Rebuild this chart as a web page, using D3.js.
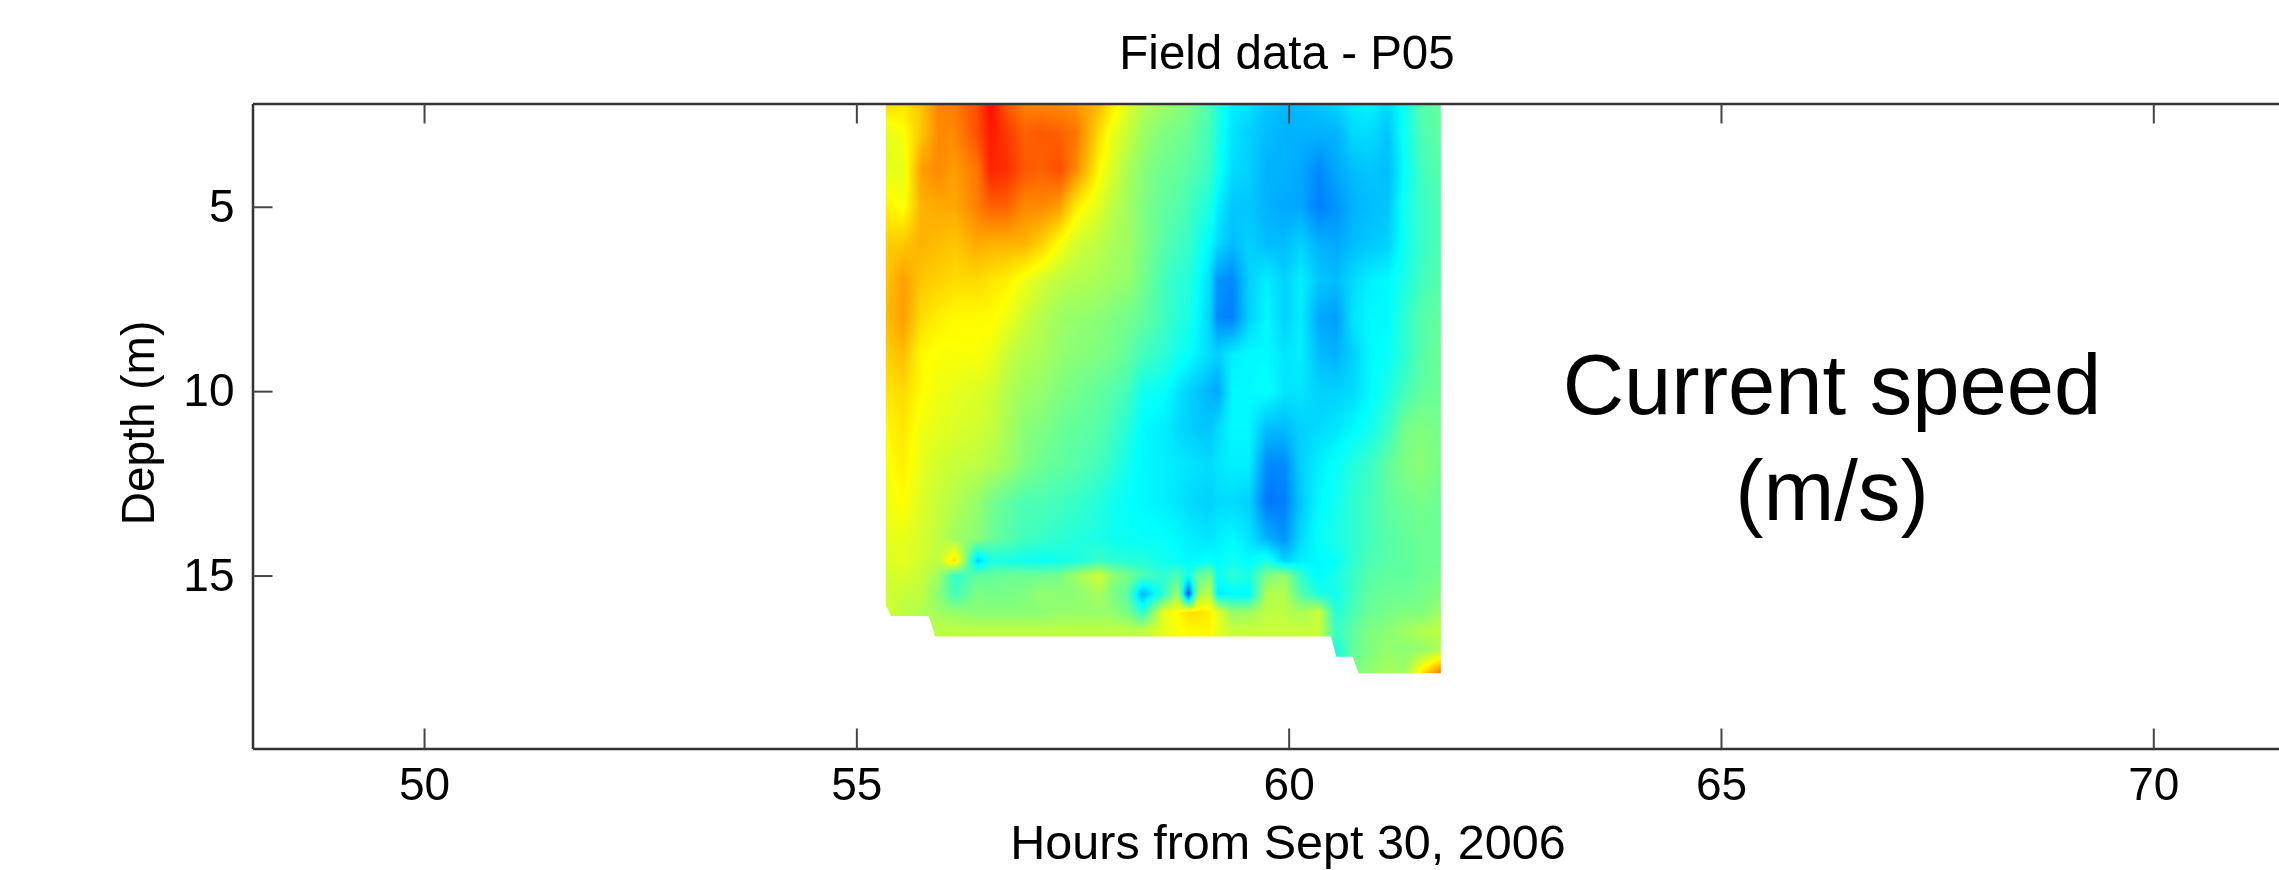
<!DOCTYPE html>
<html>
<head>
<meta charset="utf-8">
<script src="https://cdn.jsdelivr.net/npm/d3@7"></script>
<style>
    html, body { margin: 0; padding: 0; background: #fff; overflow: hidden; }
    #chart { position: relative; width: 2279px; height: 870px; overflow: hidden; }
    #chart canvas, #chart svg { position: absolute; left: 0; top: 0; }
    text { font-family: "Liberation Sans", Arial, sans-serif; fill: #000; }
</style>
</head>
<body>
<div id="chart"></div>
<script>
// Sample times (hours from Sept 30, 2006)
const hours = [
    55.34, 55.54, 55.75, 55.95, 56.14, 56.40, 56.55, 56.74, 56.94, 57.15, 57.35,
    57.54, 57.81, 57.95, 58.14, 58.31, 58.55, 58.72, 58.84, 58.95, 59.09, 59.18,
    59.35, 59.54, 59.75, 59.95, 60.14, 60.35, 60.55, 60.75, 60.94, 61.15, 61.35,
    61.54, 61.76
];

// Depth of each row (m)
const depths = [2, 3, 4, 5, 6, 7, 8, 9, 10, 11, 12, 13, 14, 14.6, 15, 15.5, 16, 16.5, 17, 17.7];

// Current speed (m/s), one row per depth, one value per time. null = no measurement
const speed = [
    [.68,.66,.68,.75,.76,.80,.87,.78,.74,.73,.73,.72,.70,.66,.60,.56,.54,.52,.50,.48,.45,.41,.36,.35,.32,.31,.31,.32,.34,.36,.37,.34,.39,.46,.47],
    [.60,.62,.68,.74,.74,.80,.85,.82,.78,.79,.78,.76,.66,.61,.57,.53,.50,.49,.48,.46,.44,.40,.35,.33,.31,.30,.30,.30,.30,.34,.34,.32,.39,.45,.47],
    [.60,.60,.72,.74,.72,.76,.84,.83,.79,.78,.80,.74,.63,.59,.54,.51,.48,.475,.46,.45,.43,.39,.34,.33,.30,.30,.29,.26,.29,.31,.32,.31,.38,.44,.46],
    [.64,.62,.70,.71,.71,.75,.78,.78,.74,.74,.72,.64,.59,.56,.53,.50,.47,.46,.44,.42,.40,.36,.32,.32,.30,.29,.29,.25,.27,.30,.31,.32,.39,.43,.45],
    [.67,.68,.70,.69,.68,.71,.70,.70,.70,.67,.62,.58,.56,.54,.53,.50,.46,.44,.43,.40,.37,.34,.31,.33,.31,.31,.33,.30,.29,.31,.32,.33,.39,.43,.45],
    [.68,.72,.68,.67,.66,.66,.65,.64,.61,.58,.56,.55,.54,.53,.52,.49,.44,.42,.41,.38,.34,.27,.26,.33,.36,.33,.36,.32,.31,.34,.36,.37,.40,.44,.46],
    [.69,.72,.66,.64,.63,.63,.63,.61,.575,.55,.53,.52,.51,.50,.49,.47,.44,.41,.40,.37,.33,.26,.25,.33,.37,.33,.36,.29,.28,.35,.37,.37,.42,.46,.47],
    [.67,.69,.63,.62,.62,.62,.61,.57,.55,.54,.52,.51,.50,.49,.47,.44,.42,.39,.38,.36,.34,.33,.36,.37,.37,.35,.36,.31,.30,.33,.37,.38,.42,.46,.48],
    [.65,.66,.63,.61,.60,.59,.58,.55,.53,.52,.50,.49,.47,.46,.44,.39,.38,.35,.33,.32,.30,.29,.37,.37,.38,.35,.35,.33,.33,.34,.37,.40,.44,.47,.48],
    [.63,.65,.61,.60,.59,.58,.57,.54,.51,.50,.48,.47,.46,.44,.41,.37,.36,.34,.33,.32,.32,.34,.37,.37,.31,.31,.33,.34,.35,.37,.39,.43,.49,.50,.49],
    [.62,.64,.60,.58,.57,.56,.55,.53,.50,.48,.47,.46,.44,.42,.39,.37,.36,.355,.35,.345,.34,.35,.36,.36,.26,.26,.33,.36,.38,.41,.43,.47,.50,.51,.49],
    [.61,.625,.59,.57,.55,.52,.49,.47,.45,.45,.44,.43,.41,.39,.38,.37,.36,.35,.34,.335,.33,.34,.34,.33,.24,.25,.32,.37,.39,.42,.44,.47,.48,.49,.48],
    [.60,.60,.585,.56,.53,.51,.48,.46,.44,.43,.42,.41,.40,.39,.385,.38,.38,.37,.36,.355,.35,.36,.37,.35,.30,.27,.34,.38,.40,.42,.44,.46,.47,.48,.48],
    [.59,.60,.58,.56,.66,.33,.40,.40,.39,.385,.39,.40,.43,.42,.41,.41,.39,.38,.37,.37,.38,.37,.39,.37,.40,.33,.36,.37,.38,.42,.45,.46,.47,.48,.48],
    [.58,.585,.57,.53,.42,.47,.47,.48,.48,.48,.49,.53,.58,.52,.49,.45,.42,.45,.39,.47,.50,.38,.42,.40,.50,.52,.42,.37,.40,.43,.46,.47,.47,.48,.49],
    [.58,.57,.56,.51,.44,.50,.49,.49,.50,.52,.51,.51,.54,.50,.46,.30,.42,.53,.20,.53,.56,.36,.37,.37,.55,.55,.46,.40,.39,.44,.47,.48,.48,.49,.50],
    [.58,.56,.55,.53,.52,.51,.51,.51,.51,.51,.52,.52,.52,.52,.49,.42,.60,.63,.655,.655,.64,.60,.52,.53,.56,.56,.54,.57,.41,.45,.48,.49,.50,.50,.53],
    [null,null,null,.56,.56,.56,.56,.56,.56,.56,.56,.56,.56,.56,.56,.56,.60,.62,.63,.63,.63,.60,.57,.57,.57,.57,.57,.57,.43,.47,.50,.51,.53,.55,.56],
    [null,null,null,null,null,null,null,null,null,null,null,null,null,null,null,null,null,null,null,null,null,null,null,null,null,null,null,null,.40,.47,.50,.52,.51,.52,.54],
    [null,null,null,null,null,null,null,null,null,null,null,null,null,null,null,null,null,null,null,null,null,null,null,null,null,null,null,null,null,.50,.52,.54,.53,.66,.78]
];

// Lower edge of the measured area
const floorHours = [55.34, 55.34, 55.40, 55.84, 55.91, 60.49, 60.55, 60.74, 60.81, 61.76];
const floorDepths = [2.2, 15.8, 16.1, 16.1, 16.65, 16.65, 17.2, 17.2, 17.65, 17.65];

const xTicks = [50, 55, 60, 65, 70];
const yTicks = [5, 10, 15];

const width = 2279;
const height = 870;

const x = d3.scaleLinear().domain([48.016, 71.75]).range([252.5, 2304.6]);
const y = d3.scaleLinear().domain([2.2, 19.69]).range([103.5, 748.5]);

// Jet colormap
const jet = d3.scaleLinear()
    .domain([0, .125, .375, .625, .875, 1])
    .range(['#00008f', '#0000ff', '#00ffff', '#ffff00', '#ff0000', '#800000'])
    .clamp(true);

const chart = d3.select('#chart');

// Heat layer: shade between the samples, like MATLAB's "shading interp"
const canvas = chart.append('canvas')
    .attr('width', width)
    .attr('height', height)
    .style('filter', 'blur(0.7px)');
const ctx = canvas.node().getContext('2d');

const cell = (r, c) => {
    while (speed[r][c] === null) r--;
    return speed[r][c];
};

const px0 = Math.floor(x(hours[0]));
const px1 = Math.ceil(x(hours[hours.length - 1]));
const py0 = Math.floor(y.range()[0]);
const py1 = Math.ceil(y(depths[depths.length - 1]));
const image = ctx.createImageData(px1 - px0, py1 - py0);

for (let py = py0; py < py1; py++) {
    const d = y.invert(py + 0.5);
    const r = Math.max(0, Math.min(depths.length - 2, d3.bisectRight(depths, d) - 1));
    const v = (d - depths[r]) / (depths[r + 1] - depths[r]);
    for (let px = px0; px < px1; px++) {
        const h = x.invert(px + 0.5);
        const c = Math.max(0, Math.min(hours.length - 2, d3.bisectRight(hours, h) - 1));
        const u = Math.max(0, Math.min(1, (h - hours[c]) / (hours[c + 1] - hours[c])));
        const top = cell(r, c) * (1 - u) + cell(r, c + 1) * u;
        const bottom = cell(r + 1, c) * (1 - u) + cell(r + 1, c + 1) * u;
        const color = d3.rgb(jet(top * (1 - v) + bottom * v));
        const i = ((py - py0) * (px1 - px0) + (px - px0)) * 4;
        image.data[i] = color.r;
        image.data[i + 1] = color.g;
        image.data[i + 2] = color.b;
        image.data[i + 3] = 255;
    }
}

const buffer = document.createElement('canvas');
buffer.width = px1 - px0;
buffer.height = py1 - py0;
buffer.getContext('2d').putImageData(image, 0, 0);

// Clip to the measured area
const outline = floorHours.map((h, i) => [x(h), y(floorDepths[i])])
    .concat([[x(hours[hours.length - 1]), y(2.2)]]);
ctx.beginPath();
d3.line().context(ctx).curve(d3.curveLinearClosed)(outline);
ctx.clip();
ctx.drawImage(buffer, px0, py0);

// Axes and labels
const svg = chart.append('svg')
    .attr('width', width)
    .attr('height', height);

const styleAxis = g => {
    g.selectAll('.domain').attr('stroke', '#333').attr('stroke-width', 2.5);
    g.selectAll('.tick line').attr('stroke', '#444').attr('stroke-width', 2);
    g.selectAll('.tick text').style('font-size', '46px').attr('fill', '#000');
};

svg.append('g')
    .attr('transform', `translate(0,${y.range()[1]})`)
    .call(d3.axisBottom(x).tickValues(xTicks).tickSizeOuter(0).tickSizeInner(-20).tickPadding(19))
    .call(styleAxis);

svg.append('g')
    .attr('transform', `translate(0,${y.range()[0]})`)
    .call(d3.axisTop(x).tickValues(xTicks).tickSizeOuter(0).tickSizeInner(-20).tickFormat(''))
    .call(styleAxis);

svg.append('g')
    .attr('transform', `translate(${x.range()[0]},0)`)
    .call(d3.axisLeft(y).tickValues(yTicks).tickSizeOuter(0).tickSizeInner(-20).tickPadding(18))
    .call(styleAxis);

svg.append('text')
    .attr('x', 1287)
    .attr('y', 69)
    .attr('text-anchor', 'middle')
    .style('font-size', '47.5px')
    .text('Field data - P05');

svg.append('text')
    .attr('x', 1288)
    .attr('y', 859)
    .attr('text-anchor', 'middle')
    .style('font-size', '48.5px')
    .text('Hours from Sept 30, 2006');

svg.append('text')
    .attr('transform', 'translate(154,423) rotate(-90)')
    .attr('text-anchor', 'middle')
    .style('font-size', '46px')
    .text('Depth (m)');

// Annotation on the empty part of the plot
svg.append('text')
    .attr('x', 1832)
    .attr('y', 414)
    .attr('text-anchor', 'middle')
    .style('font-size', '85px')
    .text('Current speed');

svg.append('text')
    .attr('x', 1832)
    .attr('y', 520)
    .attr('text-anchor', 'middle')
    .style('font-size', '85px')
    .text('(m/s)');
</script>
</body>
</html>
